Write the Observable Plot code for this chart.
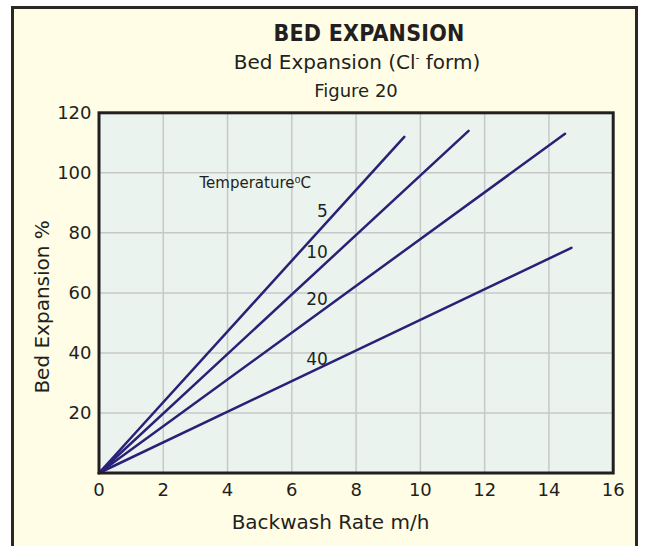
<!DOCTYPE html>
<html><head><meta charset="utf-8">
<script src="https://cdn.jsdelivr.net/npm/d3@7"></script>
<script src="https://cdn.jsdelivr.net/npm/@observablehq/plot@0.6"></script>
<style>
html,body{margin:0;padding:0;background:#fff;width:645px;height:546px;overflow:hidden;font-family:"DejaVu Sans",sans-serif;color:#231f20}
#box{position:absolute;left:11px;top:6px;width:621px;height:560px;border:3px solid #2b2725;background:#fffde6}
.t{position:absolute;width:400px;text-align:center;white-space:nowrap;line-height:1}
#title{left:169px;top:22px;font-weight:bold;font-size:23px;font-family:"DejaVu Sans Condensed","DejaVu Sans",sans-serif;letter-spacing:0.2px}
#sub{left:157px;top:52px;font-size:20px}
#fig{left:156px;top:82px;font-size:18px}
sup{font-size:0.55em;vertical-align:0.7em}
#chart{position:absolute;left:0;top:100px}
</style></head>
<body>
<div id="box"></div>
<div class="t" id="title">BED EXPANSION</div>
<div class="t" id="sub">Bed Expansion (Cl<sup>-</sup> form)</div>
<div class="t" id="fig">Figure 20</div>
<div id="chart"></div>
<script>
const temperatures = ["5", "10", "20", "40"];
const rateStart = [0, 0, 0, 0];
const expansionStart = [0, 0, 0, 0];
const rateEnd = [9.5, 11.5, 14.5, 14.7];
const expansionEnd = [112, 114, 113, 75];
const xTicks = [0, 2, 4, 6, 8, 10, 12, 14, 16];
const yTicks = [20, 40, 60, 80, 100, 120];
const xGrid = [2, 4, 6, 8, 10, 12, 14];
const yGrid = [20, 40, 60, 80, 100];
const legendTitle = "Temperature\u2070C";
const labelRate = 7.4;

const rows = [];
temperatures.forEach((t, i) => {
  rows.push({temp: t, rate: rateStart[i], exp: expansionStart[i]});
  rows.push({temp: t, rate: rateEnd[i], exp: expansionEnd[i]});
});
const labels = temperatures.map((t, i) => ({
  temp: t, rate: labelRate,
  exp: expansionStart[i] + (expansionEnd[i] - expansionStart[i]) * (labelRate - rateStart[i]) / (rateEnd[i] - rateStart[i])
}));

const ink = "#231f20";
const chart = Plot.plot({
  width: 645, height: 446,
  marginLeft: 98.5, marginRight: 32.3, marginTop: 12.3, marginBottom: 73.5,
  x: {domain: [0, 16]},
  y: {domain: [0, 120]},
  style: {background: "transparent", fontFamily: "DejaVu Sans, sans-serif", color: ink, overflow: "visible"},
  marks: [
    Plot.frame({fill: "#eaf3ee"}),
    Plot.gridX(xGrid, {stroke: "#c8c8c8", strokeOpacity: 1, strokeWidth: 1.5}),
    Plot.gridY(yGrid, {stroke: "#c8c8c8", strokeOpacity: 1, strokeWidth: 1.5}),
    Plot.axisX({ticks: xTicks, tickSize: 0, tickPadding: 10, fontSize: 18, label: null}),
    Plot.axisY({ticks: yTicks, tickSize: 0, tickPadding: 7.5, fontSize: 18, label: null}),
    Plot.line(rows, {x: "rate", y: "exp", z: "temp", stroke: "#2a2076", strokeWidth: 2.5}),
    Plot.text(labels, {x: "rate", y: "exp", text: "temp", textAnchor: "end", dx: -9, fontSize: 17, fill: ink}),
    Plot.text([legendTitle], {frameAnchor: "top-left", dx: 100.5, dy: 70.7, lineAnchor: "middle", textAnchor: "start", fontSize: 15, fill: ink}),
    Plot.text(["Bed Expansion %"], {frameAnchor: "left", rotate: -90, dx: -56.5, dy: 14, textAnchor: "middle", lineAnchor: "middle", fontSize: 20, fill: ink}),
    Plot.text(["Backwash Rate m/h"], {frameAnchor: "bottom", dx: -25.6, dy: 49.2, textAnchor: "middle", lineAnchor: "middle", fontSize: 20, fill: ink}),
    Plot.frame({stroke: ink, strokeWidth: 3})
  ]
});
document.getElementById("chart").appendChild(chart);
</script>
</body></html>
